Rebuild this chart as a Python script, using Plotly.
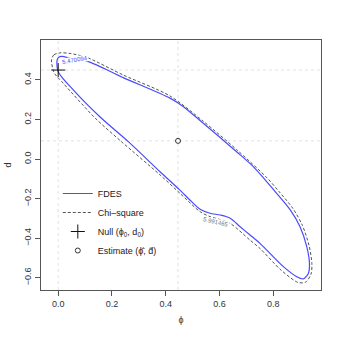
import plotly.graph_objects as go

# ── Data ───────────────────────────────────────────────────────────────────
fdes_phi = [-0.004, 0.003, 0.014, 0.050, 0.112, 0.242, 0.416, 0.466, 0.540, 0.664,
            0.726, 0.770, 0.813, 0.863, 0.900, 0.925, 0.935, 0.931, 0.912, 0.888,
            0.838, 0.751, 0.714, 0.677, 0.640, 0.603, 0.565, 0.528, 0.490, 0.453,
            0.379, 0.261, 0.155, 0.056, 0.000, -0.004]
fdes_d = [0.501, 0.516, 0.519, 0.508, 0.493, 0.412, 0.308, 0.265, 0.181, 0.037,
          -0.038, -0.105, -0.173, -0.256, -0.342, -0.443, -0.527, -0.578, -0.606, -0.595,
          -0.544, -0.426, -0.384, -0.342, -0.299, -0.283, -0.274, -0.254, -0.207, -0.157,
          -0.064, 0.088, 0.214, 0.350, 0.442, 0.501]

chisq_phi = [-0.025, -0.016, 0.006, 0.044, 0.106, 0.242, 0.416, 0.540, 0.664, 0.777,
             0.821, 0.872, 0.909, 0.934, 0.944, 0.941, 0.921, 0.893, 0.829, 0.751,
             0.714, 0.640, 0.600, 0.565, 0.528, 0.453, 0.379, 0.237, 0.137, 0.019,
             -0.012, -0.019, -0.025]
chisq_d = [0.501, 0.527, 0.537, 0.534, 0.514, 0.425, 0.319, 0.191, 0.048, -0.095,
           -0.163, -0.247, -0.336, -0.440, -0.527, -0.581, -0.622, -0.624, -0.561, -0.452,
           -0.410, -0.325, -0.305, -0.291, -0.266, -0.173, -0.080, 0.086, 0.208, 0.383,
           0.430, 0.451, 0.501]

null_phi, null_d = [0.0], [0.45]
est_phi, est_d = [0.446], [0.092]

fdes_level = '5.470094'
chisq_level = '5.991465'

x_ticks = [0.0, 0.2, 0.4, 0.6, 0.8]
y_ticks = [-0.6, -0.4, -0.2, 0.0, 0.2, 0.4]

# ── Style ──────────────────────────────────────────────────────────────────
FONT = 'Liberation Sans, Arial, sans-serif'
BLUE = '#4a4aff'
GREY = '#555555'
GUIDE = '#e2e2e2'

fig = go.Figure()

fig.add_trace(go.Scatter(
    x=fdes_phi, y=fdes_d, mode='lines', name='FDES',
    line=dict(color=BLUE, width=1.2, shape='spline', smoothing=0.8),
))
fig.add_trace(go.Scatter(
    x=chisq_phi, y=chisq_d, mode='lines', name='Chi\u2013square',
    line=dict(color=GREY, width=1, dash='3px,2px', shape='spline', smoothing=0.8),
))
fig.add_trace(go.Scatter(
    x=null_phi, y=null_d, mode='markers', name='Null (\u03d5<sub>0</sub>, d<sub>0</sub>)',
    marker=dict(symbol='cross-thin-open', size=10, color='#111', line=dict(color='#111', width=1)),
))
fig.add_trace(go.Scatter(
    x=est_phi, y=est_d, mode='markers', name='Estimate (\u03d5\u0302, d\u0302)',
    marker=dict(symbol='circle-open', size=5, color='#333', line=dict(color='#333', width=1)),
))

# reference lines through null and estimate
for xv in null_phi + est_phi:
    fig.add_vline(x=xv, line=dict(color=GUIDE, width=1, dash='dot'), layer='below')
for yv in null_d + est_d:
    fig.add_hline(y=yv, line=dict(color=GUIDE, width=1, dash='dot'), layer='below')

# contour labels
fig.add_annotation(x=0.062, y=0.503, text=fdes_level, showarrow=False, textangle=-10,
                   font=dict(family=FONT, size=6, color=BLUE), bgcolor='white', borderpad=0)
fig.add_annotation(x=0.586, y=-0.318, text=chisq_level, showarrow=False, textangle=13,
                   font=dict(family=FONT, size=6, color='#777'), bgcolor='white', borderpad=0)

axis_common = dict(
    showgrid=False, zeroline=False, showline=True, mirror=True, automargin=False,
    linecolor='#555', linewidth=1, ticks='outside', ticklen=5, tickcolor='#555',
    tickfont=dict(family=FONT, size=9, color='#333'),
)

fig.update_layout(
    width=342, height=342,
    paper_bgcolor='white', plot_bgcolor='white',
    font=dict(family=FONT, size=9, color='#333'),
    margin=dict(l=41, r=21, t=40, b=52),
    xaxis=dict(**axis_common, range=[-0.064, 0.978], tickvals=x_ticks,
               tickformat='.1f',
               title=dict(text='\u03d5', font=dict(family=FONT, size=9), standoff=8)),
    yaxis=dict(**axis_common, range=[-0.662, 0.602], tickvals=y_ticks,
               tickformat='.1f', tickangle=-90,
               title=dict(text='d', font=dict(family=FONT, size=9), standoff=10)),
    showlegend=True,
    legend=dict(x=0.06, y=0.1, xanchor='left', yanchor='bottom',
                bgcolor='rgba(0,0,0,0)', font=dict(family=FONT, size=9, color='#222'),
                itemwidth=30, tracegroupgap=0),
)

# page body margin would otherwise offset the 342x342 figure
fig.write_html('out.html', config={'displayModeBar': False},
               post_script="document.body.style.margin='0';")
